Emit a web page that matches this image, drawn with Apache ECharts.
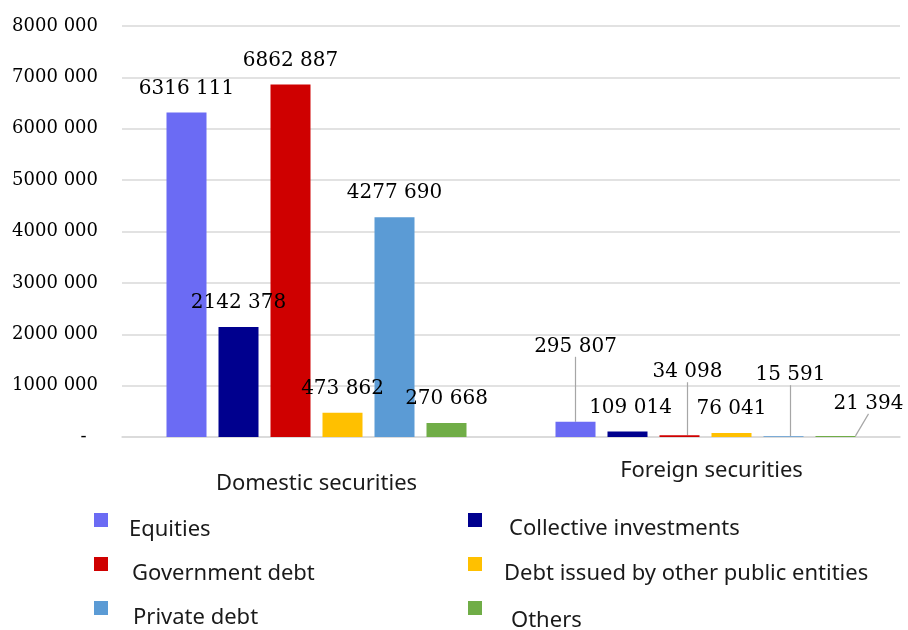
<!DOCTYPE html>
<html>
<head>
<meta charset="utf-8">
<title>Securities holdings</title>
<script src="https://cdn.jsdelivr.net/npm/echarts@6/dist/echarts.min.js"></script>
<style>
    html, body { margin: 0; padding: 0; background: #fff; }
    #chart { width: 908px; height: 630px; }
</style>
</head>
<body>
<div id="chart"></div>
<script>
var categories = ['Domestic securities', 'Foreign securities'];
var seriesNames = ['Equities', 'Collective investments', 'Government debt',
    'Debt issued by other public entities', 'Private debt', 'Others'];
var equities = [6316111, 295807];
var collective = [2142378, 109014];
var government = [6862887, 34098];
var otherPublic = [473862, 76041];
var privateDebt = [4277690, 15591];
var others = [270668, 21394];
var yTicks = [0, 1000000, 2000000, 3000000, 4000000, 5000000, 6000000, 7000000, 8000000];

var colors = ['#6b6bf4', '#00008e', '#cf0000', '#ffc000', '#5b9bd5', '#70ad47'];
var values = [equities, collective, government, otherPublic, privateDebt, others];

// label shifts for the foreign group (Excel moved them by hand)
var foreignShift = [[0, -51], [3, 0], [8, -39], [0, 0], [7, -37], [33, -8]];
var foreignLine = [true, false, true, false, true, true];

// legend slots: two columns, three rows  [left, top, text gap, text drop]
var legendSlots = [[94, 513, 16, 20], [468, 513, 22, 18], [94, 557, 19, 20],
    [468, 557, 17, 20], [94, 601, 20, 20], [468, 601, 24, 26]];

function fmt(v) {
    if (v === 0) return '-  ';
    var th = Math.floor(v / 1000);
    var rest = String(v % 1000);
    while (rest.length < 3) rest = '0' + rest;
    return th + ' ' + rest;
}

var myChart = echarts.init(document.getElementById('chart'));

var series = seriesNames.map(function (name, i) {
    return {
        name: name,
        type: 'bar',
        barWidth: 40,
        barGap: '30%',
        itemStyle: {color: colors[i]},
        label: {
            show: true,
            position: 'top',
            distance: 14,
            fontFamily: 'DejaVu Serif',
            fontSize: 20,
            color: '#000',
            formatter: function (p) { return fmt(p.value); }
        },
        labelLayout: function (p) {
            if (p.dataIndex === 1) {
                return {dx: foreignShift[i][0], dy: foreignShift[i][1]};
            }
            return {};
        },
        labelLine: {
            show: false,
            lineStyle: {color: '#a6a6a6', width: 1.2}
        },
        data: values[i].map(function (v, j) {
            return {value: v, labelLine: {show: j === 1 && foreignLine[i]}};
        })
    };
});

var legends = seriesNames.map(function (name, i) {
    return {
        data: [name],
        left: legendSlots[i][0],
        top: legendSlots[i][1],
        padding: 0,
        itemWidth: 14,
        itemHeight: 14,
        icon: 'rect',
        selectedMode: false,
        formatter: function (n) { return '{t|' + n + '}'; },
        textStyle: {
            rich: {
                t: {
                    fontFamily: 'Noto Sans',
                    fontSize: 22,
                    color: '#1a1a1a',
                    padding: [legendSlots[i][3], 0, 0, legendSlots[i][2]]
                }
            }
        }
    };
});

option = {
    animation: false,
    grid: {left: 122, right: 8, top: 26, bottom: 193},
    legend: legends,
    xAxis: {
        type: 'category',
        data: categories,
        axisLine: {lineStyle: {color: '#d9d9d9', width: 1.5}},
        axisTick: {show: false},
        axisLabel: {
            margin: 23,
            formatter: function (v, idx) {
                return idx === 0 ? '{d|' + v + '}' : '{f|' + v + '}';
            },
            rich: {
                d: {fontFamily: 'Noto Sans', fontSize: 22, color: '#1a1a1a', padding: [13, 0, 0, 0]},
                f: {fontFamily: 'Noto Sans', fontSize: 22, color: '#1a1a1a', padding: [0, 0, 0, 12]}
            }
        }
    },
    yAxis: {
        type: 'value',
        min: yTicks[0],
        max: yTicks[yTicks.length - 1],
        interval: yTicks[1] - yTicks[0],
        axisLine: {show: false},
        axisTick: {show: false},
        splitLine: {lineStyle: {color: '#d9d9d9', width: 1.5}},
        axisLabel: {
            margin: 24,
            fontFamily: 'DejaVu Serif',
            fontSize: 18,
            color: '#000',
            formatter: fmt
        }
    },
    series: series
};
myChart.setOption(option);
</script>
</body>
</html>
